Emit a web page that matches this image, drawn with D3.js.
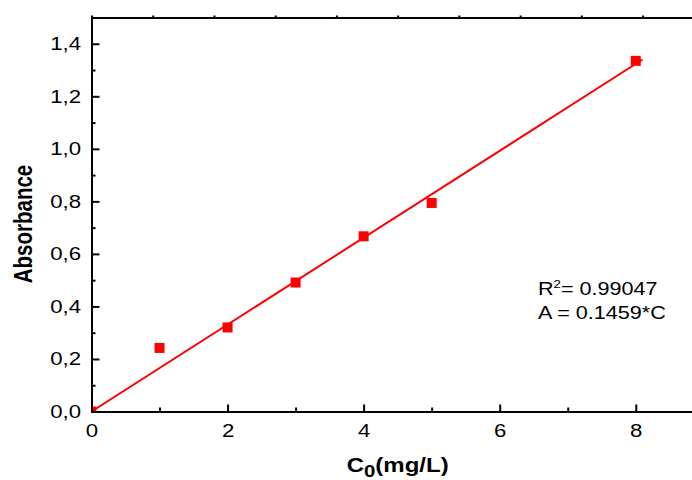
<!DOCTYPE html>
<html>
<head>
<meta charset="utf-8">
<script src="https://cdn.jsdelivr.net/npm/d3@7"></script>
<style>
  body { margin: 0; background: #fff; }
  text { font-family: "Liberation Sans", Arial, sans-serif; fill: #000; }
</style>
</head>
<body>
<div id="chart"></div>
<script>
// calibration data
var concentrations = [0, 1, 2, 3, 4, 5, 8];
var absorbances = [0, 0.242, 0.320, 0.491, 0.667, 0.794, 1.335];

// fitted line as drawn (end points)
var fitX = [0, 8.1];
var fitY = [0, 1.34];

var xTicks = [0, 2, 4, 6, 8];
var xMinorTicks = [1, 3, 5, 7];
var yTicks = [0, 0.2, 0.4, 0.6, 0.8, 1.0, 1.2, 1.4];
var yMinorTicks = [0.1, 0.3, 0.5, 0.7, 0.9, 1.1, 1.3, 1.5];
var topTicks = [1, 2, 3, 4, 5, 6, 7, 8, 9];

var svgWidth = 692;
var svgHeight = 480;
var margin = {top: 17.5, left: 91.5};
var width = 612.3;
var height = 394;
var stretch = "scale(1.2,1)"; // text in the picture is a bit wide

var svg = d3.select("#chart").append("svg")
  .attr("width", svgWidth)
  .attr("height", svgHeight);

var chartGroup = svg.append("g")
  .attr("transform", `translate(${margin.left}, ${margin.top})`);

var xScale = d3.scaleLinear().domain([0, 9]).range([0, width]);
var yScale = d3.scaleLinear().domain([0, 1.5]).range([height, 0]);
var topScale = d3.scaleLinear().domain([0, 10]).range([0, width]);

chartGroup.append("clipPath").attr("id", "plotClip")
  .append("rect").attr("width", width).attr("height", height);

var commaFmt = d => d3.format(".1f")(d).replace(".", ",");

//fit line
var plot = chartGroup.append("g").attr("clip-path", "url(#plotClip)");
plot.append("path")
  .datum(d3.zip(fitX, fitY))
  .attr("d", d3.line().x(d => xScale(d[0])).y(d => yScale(d[1])))
  .attr("fill", "none")
  .attr("stroke", "#ff0000")
  .attr("stroke-width", 2);

//data points (squares)
var s = 10;
plot.selectAll(".pt")
  .data(d3.zip(concentrations, absorbances))
  .enter()
  .append("rect")
  .attr("x", d => xScale(d[0]) - s / 2)
  .attr("y", d => yScale(d[1]) - s / 2)
  .attr("width", s)
  .attr("height", s)
  .attr("fill", "#ff0000");

// axes - ticks point inward
var xAxis = chartGroup.append("g")
  .attr("transform", `translate(0, ${height})`)
  .call(d3.axisBottom(xScale).tickValues(xTicks).tickSize(-7).tickFormat(d3.format("d")));
chartGroup.append("g")
  .attr("transform", `translate(0, ${height})`)
  .call(d3.axisBottom(xScale).tickValues(xMinorTicks).tickSize(-4).tickFormat(""));

var yAxis = chartGroup.append("g")
  .call(d3.axisLeft(yScale).tickValues(yTicks).tickSize(-8).tickFormat(commaFmt));
chartGroup.append("g")
  .call(d3.axisLeft(yScale).tickValues(yMinorTicks).tickSize(-4).tickFormat(""));

chartGroup.append("g")
  .call(d3.axisTop(topScale).tickValues(topTicks).tickSize(2).tickFormat(""));

chartGroup.selectAll(".domain")
  .attr("stroke", "#000")
  .attr("stroke-width", 2);
chartGroup.selectAll(".tick line")
  .attr("stroke", "#000")
  .attr("stroke-width", 2);

xAxis.selectAll("text")
  .attr("y", null).attr("dy", null)
  .attr("transform", `translate(0, 25) ${stretch}`)
  .style("font-size", "18.5px");

yAxis.selectAll("text")
  .attr("x", null)
  .attr("transform", `translate(-10.5, 0) ${stretch}`)
  .style("font-size", "18.5px");

// axis titles
svg.append("text")
  .attr("transform", "translate(32, 224) scale(1.3,1) rotate(-90)")
  .attr("text-anchor", "middle")
  .style("font-size", "20.5px")
  .style("font-weight", "bold")
  .text("Absorbance");

var xTitle = svg.append("text")
  .attr("transform", `translate(${margin.left + width / 2}, 472) ${stretch}`)
  .attr("text-anchor", "middle")
  .style("font-size", "20px")
  .style("font-weight", "bold");
xTitle.append("tspan").text("C");
xTitle.append("tspan").attr("dy", 5).style("font-size", "17px").text("0");
xTitle.append("tspan").attr("dy", -5).text("(mg/L)");

// fit annotation
var note = svg.append("text")
  .attr("transform", `translate(538, 295) ${stretch}`)
  .style("font-size", "18px");
note.append("tspan").text("R");
note.append("tspan").attr("dy", -7).style("font-size", "11px").text("2");
note.append("tspan").attr("dy", 7).text("= 0.99047");

svg.append("text")
  .attr("transform", `translate(538, 318.5) ${stretch}`)
  .style("font-size", "18px")
  .text("A = 0.1459*C");
</script>
</body>
</html>
